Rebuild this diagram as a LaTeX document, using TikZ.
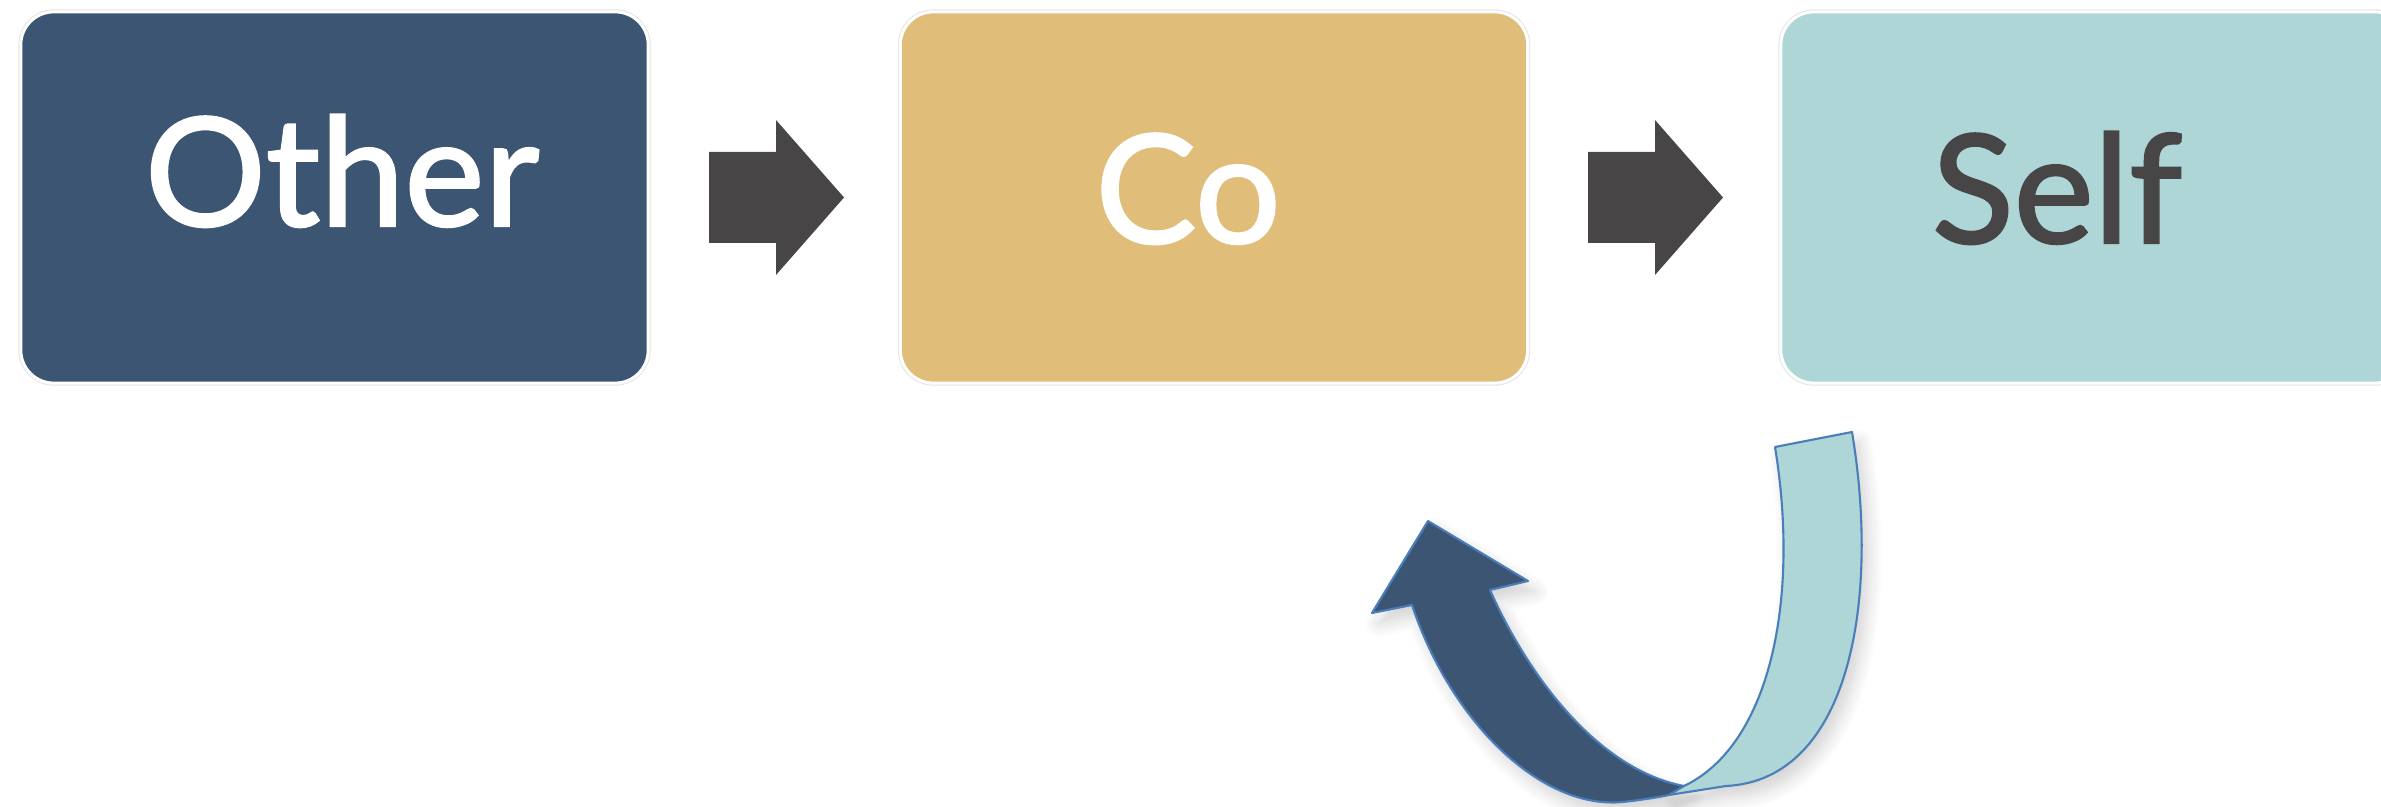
\documentclass[tikz,border=0pt]{standalone}
\usepackage{fontspec}
\setmainfont{Lato}
\newfontfamily\capfont{Lato}[FakeBold=1.6]
\usetikzlibrary{shadows.blur}
\definecolor{navy}{RGB}{60,85,115}
\definecolor{sand}{RGB}{224,190,122}
\definecolor{aqua}{RGB}{174,214,215}
\definecolor{charcoal}{RGB}{71,69,70}
\definecolor{rim}{RGB}{74,126,187}
\tikzset{
  card/.style={rectangle, rounded corners=0.33cm, minimum width=6.27cm,
    minimum height=3.71cm, inner sep=0pt, draw=white, line width=0.85pt,
    preaction={draw=black!10, line width=1.45pt}},
  caption/.style={anchor=base, font=\capfont\fontsize{43}{50}\selectfont},
  blockarrow/.style={fill=charcoal},
  ribbon/.style={draw=rim, line width=0.6pt, line join=round},
  ribbonshadow/.style={blur shadow={shadow xshift=2pt, shadow yshift=-3pt,
    shadow blur radius=4pt, shadow blur steps=12, shadow opacity=18}}
}
\begin{document}
\begin{tikzpicture}[x=0.01cm, y=-0.01cm]
  \useasboundingbox (0,0) rectangle (2381,807);

  % three stage cards
  \node[card, fill=navy] (other) at (334.5,197.5) {};
  \node[card, fill=sand] (co)    at (1214,197.5)  {};
  \node[card, fill=aqua] (self)  at (2094.5,197.5) {};

  \node[caption, text=white]    (tother) at (342,226)  {Other};
  \node[caption, text=white]    (tco)    at (1188,243) {Co};
  \node[caption, text=charcoal] (tself)  at (2057,243) {Self};

  % block arrows between the cards
  \coordinate (a1) at (709,197.5);
  \coordinate (a2) at (1588,197.5);
  \foreach \a in {a1,a2}{
    \fill[blockarrow] (\a) ++(0,-45.5) -- ++(67,0) -- ++(0,-32)
      -- ++(68,77.5) -- ++(-68,77.5) -- ++(0,-32) -- ++(-67,0) -- cycle;
  }

  % curved return ribbon: dark arrow part
  \coordinate (j1) at (1684,786);
  \coordinate (j2) at (1669,795);
  \fill[navy, ribbonshadow] (j1) .. controls (1600,770) and (1530,680) .. (1490,590)
    -- (1528,581) -- (1428,521) -- (1372,613) -- (1412,605)
    .. controls (1450,720) and (1540,810) .. (1623,802)
    .. controls (1640,800) and (1655,798) .. (j2) -- cycle;
  \draw[ribbon] (j1) .. controls (1600,770) and (1530,680) .. (1490,590)
    -- (1528,581) -- (1428,521) -- (1372,613) -- (1412,605)
    .. controls (1450,720) and (1540,810) .. (1623,802)
    .. controls (1640,800) and (1655,798) .. (j2) -- cycle;

  % curved return ribbon: light tail part
  \fill[aqua, ribbonshadow] (1775,447) -- (1852,432)
    .. controls (1880,600) and (1850,780) .. (1726,786) -- (j2) -- (j1)
    .. controls (1770,745) and (1800,600) .. (1775,447) -- cycle;
  \draw[ribbon] (1775,447) -- (1852,432)
    .. controls (1880,600) and (1850,780) .. (1726,786) -- (j2) -- (j1)
    .. controls (1770,745) and (1800,600) .. (1775,447) -- cycle;
\end{tikzpicture}
\end{document}
